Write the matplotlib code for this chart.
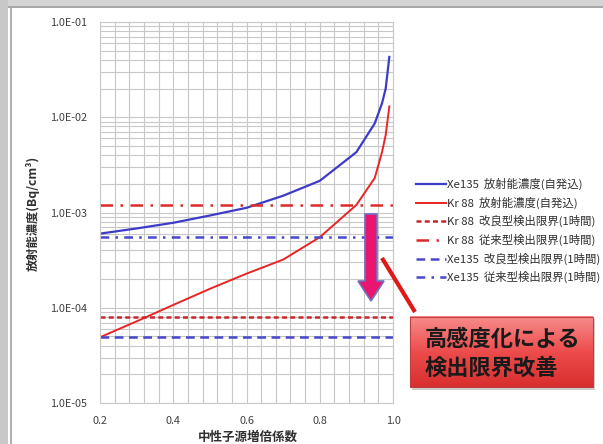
import numpy as np
import matplotlib
matplotlib.use('Agg')
import matplotlib.pyplot as plt
from matplotlib.ticker import MultipleLocator, LogLocator, FuncFormatter, NullFormatter
from matplotlib.patches import Rectangle, FancyArrow

plt.rcParams['font.family'] = ['Noto Sans CJK JP', 'DejaVu Sans']

# neutron source multiplication factor vs concentration
k = [0.2, 0.3, 0.4, 0.5, 0.6, 0.7, 0.8, 0.9, 0.95, 0.97, 0.98, 0.99]
xe135 = [6.0e-4, 6.8e-4, 7.8e-4, 9.3e-4, 1.12e-3, 1.5e-3, 2.15e-3, 4.3e-3,
         8.6e-3, 1.4e-2, 2.0e-2, 4.3e-2]
kr88 = [4.9e-5, 7.2e-5, 1.07e-4, 1.58e-4, 2.28e-4, 3.2e-4, 5.5e-4, 1.2e-3,
        2.3e-3, 4.3e-3, 6.5e-3, 1.3e-2]

# detection limits (1 hour)
k_span = [0.2, 1.0]
kr88_improved = 8.0e-5
kr88_conventional = 1.2e-3
xe135_improved = 4.9e-5
xe135_conventional = 5.5e-4

labels = ['Xe135  放射能濃度(自発込)',
          'Kr 88  放射能濃度(自発込)',
          'Kr 88  改良型検出限界(1時間)',
          'Kr 88  従来型検出限界(1時間)',
          'Xe135  改良型検出限界(1時間)',
          'Xe135  従来型検出限界(1時間)']

W, H = 603, 444
fig = plt.figure(figsize=(W / 100, H / 100), dpi=100)
fig.patch.set_facecolor('white')

ax = fig.add_axes([100 / W, 1 - 403 / H, 293 / W, 381 / H])
blue = '#3c3cc8'
red = '#e82424'
lines = []
lines += ax.plot(k, xe135, color=blue, lw=1.6)
lines += ax.plot(k, kr88, color=red, lw=1.4)
lines += ax.plot(k_span, [kr88_improved] * 2, color='#c8282c', lw=1.8, ls=(0, (2.0, 1.3)))
lines += ax.plot(k_span, [kr88_conventional] * 2, color='#dc2a2a', lw=1.8, ls=(0, (5, 3, 1, 3)))
lines += ax.plot(k_span, [xe135_improved] * 2, color='#4848cc', lw=1.8, ls=(0, (3.5, 2.2)))
lines += ax.plot(k_span, [xe135_conventional] * 2, color='#4848cc', lw=1.8, ls=(0, (3.5, 2.5, 1, 2.5)))

ax.set_yscale('log')
ax.set_ylim(1e-5, 1e-1)
ax.set_xlim(0.2, 1.0)
ax.xaxis.set_major_locator(MultipleLocator(0.2))
ax.xaxis.set_minor_locator(MultipleLocator(0.04))
ax.yaxis.set_major_locator(LogLocator(base=10))
ax.yaxis.set_minor_locator(LogLocator(base=10, subs=np.arange(2, 10)))
ax.yaxis.set_minor_formatter(NullFormatter())
ax.yaxis.set_major_formatter(FuncFormatter(lambda v, p: f'{v:.1E}'))
ax.xaxis.set_major_formatter(FuncFormatter(lambda v, p: f'{v:.1f}'))
ax.grid(True, which='both', color='#c8c8c8', lw=0.8)
ax.set_axisbelow(True)
for s in ax.spines.values():
    s.set_color('#c8c8c8')
    s.set_linewidth(0.8)
ax.tick_params(which='both', length=0, labelsize=7.8, colors='#404040', pad=9)

fig.text(33 / W, 1 - 213 / H, '放射能濃度(Bq/cm³)', rotation=90, ha='center', va='center',
         fontsize=8.8, fontweight='bold', color='#303030')
fig.text(248 / W, 1 - 437 / H, '中性子源増倍係数', ha='center', va='center',
         fontsize=9, fontweight='bold', color='#303030')

leg = fig.legend(lines, labels, loc='upper left', bbox_to_anchor=(416 / W, 1 - 178 / H),
                 frameon=False, fontsize=8.2, handlelength=2.6, handletextpad=0.1,
                 labelspacing=0.57, borderaxespad=0, borderpad=0)
for t in leg.get_texts():
    t.set_color('#303030')

# overlay in pixel coordinates for frame and annotations
ov = fig.add_axes([0, 0, 1, 1], zorder=5)
ov.set_xlim(0, W)
ov.set_ylim(H, 0)
ov.axis('off')
ov.add_patch(Rectangle((0, 0), W, 6, color='#d4d4d4', lw=0))
ov.add_patch(Rectangle((0, 6), W, 2.5, color='#a8a8a8', lw=0))
ov.add_patch(Rectangle((0, 0), 8, H, color='#c8c8c8', lw=0))
ov.add_patch(Rectangle((10, 8), 1.5, H, color='#b0b0b0', lw=0))

ov.add_patch(FancyArrow(371, 214, 0, 67, width=12, head_width=26, head_length=20,
                        length_includes_head=False, facecolor='#ea1570',
                        edgecolor='#7070c0', lw=1.2))
ov.plot([382, 415], [258, 312], color='#e01818', lw=3, solid_capstyle='butt')

# gradient box
grad = np.linspace(0, 1, 100)[:, None]
top = np.array([0.97, 0.55, 0.55])
mid = np.array([0.93, 0.30, 0.30])
bot = np.array([0.85, 0.18, 0.18])
cols = np.where(grad[..., None] < 0.5,
                top + (mid - top) * (grad[..., None] / 0.5),
                mid + (bot - mid) * ((grad[..., None] - 0.5) / 0.5))
cols = np.repeat(cols, 2, axis=1)
ov.add_patch(Rectangle((412, 319), 183, 71, color='#b0b0b0', lw=0, alpha=0.6))
ov.imshow(cols, extent=(410, 593, 387, 317), aspect='auto', zorder=3)
ov.add_patch(Rectangle((410, 317), 183, 70, fill=False, edgecolor='#c04040', lw=0.8, zorder=4))
ov.text(425, 339, '高感度化による', fontsize=16, fontweight='bold', color='#1a1a1a',
        va='center', ha='left', zorder=5)
ov.text(425, 368, '検出限界改善', fontsize=16, fontweight='bold', color='#1a1a1a',
        va='center', ha='left', zorder=5)
ov.set_xlim(0, W)
ov.set_ylim(H, 0)

fig.savefig('out.png', dpi=100)
